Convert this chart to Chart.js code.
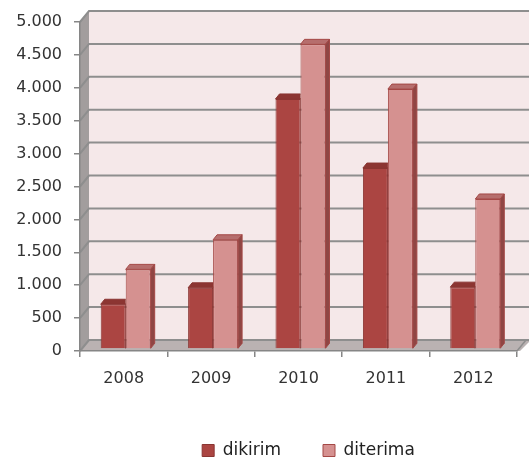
<!DOCTYPE html>
<html><head><meta charset="utf-8">
<script src="https://cdn.jsdelivr.net/npm/chart.js@4.4.1/dist/chart.umd.min.js"></script>
<style>html,body{margin:0;padding:0;background:#fff;} canvas{display:block;}</style>
</head><body>
<canvas id="c" width="529" height="458"></canvas>
<script>
const categories = ['2008', '2009', '2010', '2011', '2012'];
const dikirim = [680, 930, 3800, 2750, 940];
const diterima = [1210, 1660, 4630, 3950, 2280];
const seriesNames = ['dikirim', 'diterima'];
const yTickLabels = ['0', '500', '1.000', '1.500', '2.000', '2.500', '3.000', '3.500', '4.000', '4.500', '5.000'];

const DX = 9, DY = -11;      // depth of the 3D box walls
const BDX = 4, BDY = -5;     // depth of each bar
const SHIFT_X = 2, SHIFT_Y = -2;
const FONT = 'DejaVu Sans';

function poly(ctx, pts, fill, stroke) {
  ctx.beginPath();
  ctx.moveTo(pts[0][0], pts[0][1]);
  for (let i = 1; i < pts.length; i++) ctx.lineTo(pts[i][0], pts[i][1]);
  ctx.closePath();
  if (fill) { ctx.fillStyle = fill; ctx.fill(); }
  if (stroke) { ctx.strokeStyle = stroke; ctx.lineWidth = 1; ctx.stroke(); }
}

const wallPlugin = {
  id: 'wall3d',
  afterLayout(chart) {
    if (chart.legend) chart.legend.left = chart.chartArea.left + 20;
  },
  beforeDraw(chart) {
    const {ctx, chartArea: a, scales: {y}} = chart;
    const W = chart.width;
    ctx.save();
    // back wall
    ctx.fillStyle = '#f5e8e9';
    ctx.fillRect(a.left + DX, a.top + DY, W - (a.left + DX), a.bottom - a.top);
    // left side wall
    poly(ctx, [[a.left, a.top], [a.left + DX, a.top + DY], [a.left + DX, a.bottom + DY], [a.left, a.bottom]], '#a29d9d');
    // floor
    poly(ctx, [[a.left, a.bottom], [a.left + DX, a.bottom + DY], [W, a.bottom + DY], [W, a.bottom + DY + 2], [a.right + 3, a.bottom]], '#bab2b2');
    // gridlines on side wall and back wall
    ctx.strokeStyle = '#8e8e8e';
    ctx.lineWidth = 2;
    y.ticks.forEach(t => {
      const py = y.getPixelForValue(t.value);
      ctx.beginPath();
      ctx.moveTo(a.left, py);
      ctx.lineTo(a.left + DX, py + DY);
      ctx.lineTo(W, py + DY);
      ctx.stroke();
    });
    // floor right slanted edge
    ctx.lineWidth = 1.5;
    ctx.beginPath();
    ctx.moveTo(a.right, a.bottom);
    ctx.lineTo(a.right + DX, a.bottom + DY);
    ctx.stroke();
    ctx.restore();
  }
};

const faceColors = [
  {top: '#8c3532', side: '#7d2e2c'},
  {top: '#b66e6d', side: '#8f4644'}
];

const bar3d = {
  id: 'bar3d',
  beforeDatasetsDraw(chart) {
    chart.ctx.save();
    chart.ctx.translate(SHIFT_X, SHIFT_Y);
  },
  afterDatasetsDraw(chart) {
    const ctx = chart.ctx;
    [1, 0].forEach(di => {
      const meta = chart.getDatasetMeta(di);
      const ds = chart.data.datasets[di];
      meta.data.forEach(el => {
        const l = el.x - el.width / 2, r = el.x + el.width / 2, t = el.y, b = el.base;
        ctx.save();
        if (di === 0) {
          ctx.beginPath();
          ctx.rect(l - 1, t + BDY - 2, r - l + 1, b - t + 20);
          ctx.clip();
        }
        poly(ctx, [[l, t], [r, t], [r + BDX, t + BDY], [l + BDX, t + BDY]], faceColors[di].top, ds.borderColor);
        poly(ctx, [[r, t], [r + BDX, t + BDY], [r + BDX, b + BDY], [r, b]], faceColors[di].side, ds.borderColor);
        ctx.restore();
      });
    });
    ctx.restore();
  }
};

new Chart(document.getElementById('c'), {
  type: 'bar',
  data: {
    labels: categories,
    datasets: [
      {label: seriesNames[0], data: dikirim, backgroundColor: '#ab4542', borderColor: '#8a3532', borderWidth: 1, clip: false},
      {label: seriesNames[1], data: diterima, backgroundColor: '#d59190', borderColor: '#a44846', borderWidth: 1, clip: false}
    ]
  },
  options: {
    responsive: false,
    animation: false,
    devicePixelRatio: 1,
    layout: {padding: {top: 22, right: 12, left: 0, bottom: 0}},
    datasets: {bar: {barPercentage: 1, categoryPercentage: 0.572}},
    scales: {
      x: {
        grid: {drawOnChartArea: false, drawTicks: true, tickLength: 6, color: '#868686', lineWidth: 1.5},
        border: {display: true, color: '#868686', width: 1.5},
        ticks: {font: {family: FONT, size: 16}, color: '#333333', padding: 12, maxRotation: 0},
        afterFit(scale) { scale.height = 49; }
      },
      y: {
        min: 0, max: 5000,
        grid: {drawOnChartArea: false, drawTicks: true, tickLength: 6, color: '#868686', lineWidth: 1.5},
        border: {display: true, color: '#868686', width: 1.5},
        ticks: {
          stepSize: 500,
          font: {family: FONT, size: 16}, color: '#333333', padding: 12,
          callback: (v, i) => yTickLabels[i]
        },
        afterFit(scale) { scale.width = 80; }
      }
    },
    plugins: {
      legend: {
        position: 'bottom',
        maxHeight: 58,
        labels: {
          font: {family: FONT, size: 17}, color: '#222222',
          boxWidth: 12, boxHeight: 12, padding: 42
        }
      },
      tooltip: {enabled: false}
    }
  },
  plugins: [wallPlugin, bar3d]
});
</script>
</body></html>
